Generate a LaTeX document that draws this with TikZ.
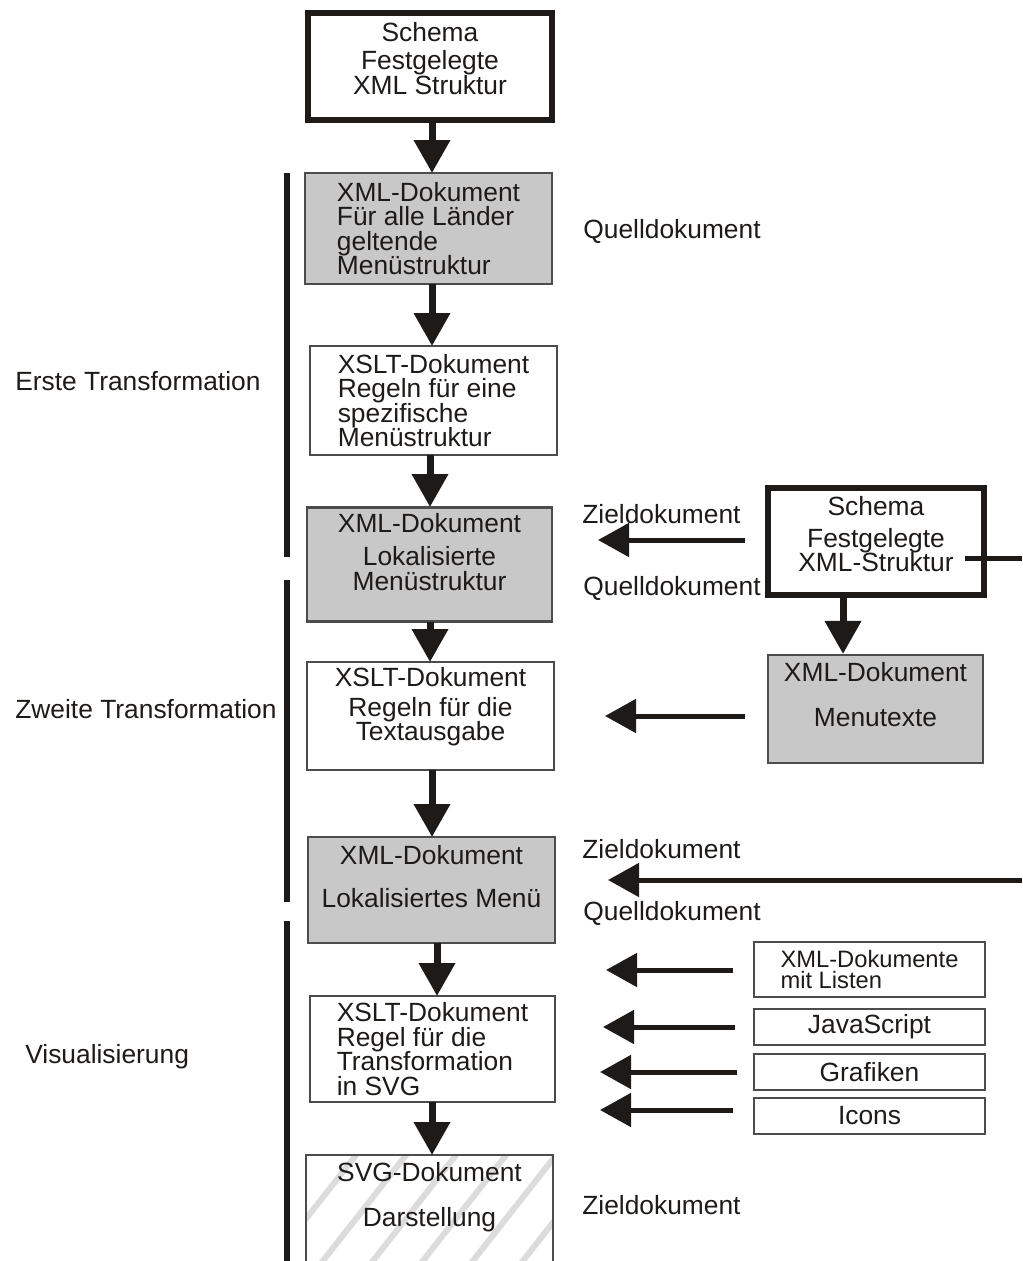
\documentclass[tikz,border=0pt]{standalone}
\usepackage{fontspec}
\setmainfont{Liberation Sans}
\usepackage{xcolor}
\usepackage{tikz}
\usetikzlibrary{positioning, arrows.meta, calc}

\definecolor{boxgray}{RGB}{200,200,200}
\definecolor{inkblack}{RGB}{30,26,24}
\definecolor{stripegray}{RGB}{220,220,220}

\tikzset{
  docbox/.style={draw=black!70, line width=1.2pt, inner sep=0pt, align=center},
  greybox/.style={docbox, fill=boxgray},
  schemabox/.style={draw=inkblack, line width=0.12cm, fill=white, inner sep=0pt, align=center},
  boxtext/.style={align=center, inner sep=0pt, yshift=#1},
  downarrow/.style={draw=inkblack, line width=0.14cm, -{Triangle[length=0.66cm,width=0.7cm]}},
  leftarrow/.style={draw=inkblack, line width=0.1cm, -{Triangle[length=0.62cm,width=0.66cm]}},
  sidebar/.style={draw=inkblack, line width=0.12cm},
  sidelabel/.style={anchor=west, inner sep=0pt}
}

\begin{document}
\begin{tikzpicture}[x=0.02cm, y=-0.02cm, every node/.style={font=\fontsize{15pt}{14pt}\selectfont, text=inkblack}]
        \useasboundingbox (0,0) rectangle (1022,1261);

        % linke Spalte
        \node[schemabox, minimum width=4.88cm, minimum height=2.14cm,
              label={[boxtext=0.16cm]center:{Schema\\[0.08cm]Festgelegte\\XML Struktur}}] (schema) at (430,66.5) {};
        \node[greybox, align=left, minimum width=4.94cm, minimum height=2.22cm] (quelle) at (428.5,228.5)
          {XML-Dokument\\Für alle Länder\\geltende\\Menüstruktur};
        \node[docbox, align=left, minimum width=4.94cm, minimum height=2.18cm] (xslt1) at (433.5,400.5)
          {XSLT-Dokument\\Regeln für eine\\spezifische\\Menüstruktur};
        \node[greybox, minimum width=4.9cm, minimum height=2.28cm,
              label={[boxtext=0.25cm]center:{XML-Dokument\\[0.18cm]Lokalisierte\\Menüstruktur}}] (lokal) at (429.5,564.5) {};
        \node[docbox, minimum width=4.94cm, minimum height=2.16cm,
              label={[boxtext=0.18cm]center:{XSLT-Dokument\\[0.1cm]Regeln für die\\Textausgabe}}] (xslt2) at (430.5,716) {};
        \node[greybox, minimum width=4.94cm, minimum height=2.12cm,
              label={[boxtext=0.27cm]center:{XML-Dokument\\[0.36cm]Lokalisiertes Menü}}] (menu) at (431.5,890) {};
        \node[docbox, align=left, minimum width=4.9cm, minimum height=2.12cm] (xslt3) at (432.5,1049)
          {XSLT-Dokument\\Regel für die\\Transformation\\in SVG};

        % SVG-Dokument, schraffiert
        \begin{scope}
          \clip (306,1155) rectangle (553,1275);
          \foreach \s in {0,50,...,450}
            \draw[stripegray, line width=0.12cm] (250+\s,1290) -- (360+\s,1150);
        \end{scope}
        \draw[black!70, line width=1.2pt] (306,1275) -- (306,1155) -- (553,1155) -- (553,1275);
        \node[inner sep=0pt, align=center] (svg) at (429.5,1197)
          {SVG-Dokument\\[0.4cm]Darstellung};

        % rechte Spalte
        \node[schemabox, minimum width=4.32cm, minimum height=2.14cm,
              label={[boxtext=0.15cm]center:{Schema\\[0.15cm]Festgelegte\\XML-Struktur}}] (schema2) at (876,541.5) {};
        \node[greybox, minimum width=4.3cm, minimum height=2.16cm,
              label={[boxtext=0.29cm]center:{XML-Dokument\\[0.4cm]Menutexte}}] (texte) at (875.5,709) {};
        \node[docbox, align=left, minimum width=4.62cm, minimum height=1.1cm,
              font=\fontsize{13.5pt}{12.5pt}\selectfont] (listen) at (869.5,969.5)
          {XML-Dokumente\\mit Listen};
        \node[docbox, minimum width=4.62cm, minimum height=0.72cm] (js) at (869.5,1027) {JavaScript};
        \node[docbox, minimum width=4.62cm, minimum height=0.72cm] (grafik) at (869.5,1072) {Grafiken};
        \node[docbox, minimum width=4.62cm, minimum height=0.72cm] (icons) at (869.5,1116) {Icons};

        % Pfeile nach unten
        \draw[downarrow] (432,120) -- (432,173);
        \draw[downarrow] (432,284) -- (432,346);
        \draw[downarrow] (430,455) -- (430,507);
        \draw[downarrow] (430,622) -- (430,662);
        \draw[downarrow] (432,770) -- (432,837);
        \draw[downarrow] (437,943) -- (437,996);
        \draw[downarrow] (432,1102) -- (432,1155);
        \draw[downarrow] (schema2.south -| 843,0) -- (texte.north -| 843,0);

        % Pfeile nach links
        \coordinate (z1) at (745,540);
        \coordinate (z1end) at (598,540);
        \coordinate (z2) at (745,716);
        \coordinate (z2end) at (605,716);
        \coordinate (z3) at (1022,880);
        \coordinate (z3end) at (608,880);
        \coordinate (s2out) at (965,558);
        \coordinate (s2edge) at (1022,558);
        \draw[leftarrow] (z1) -- (z1end);
        \draw[leftarrow] (z2) -- (z2end);
        \draw[leftarrow] (z3) -- (z3end);
        \draw[inkblack, line width=0.1cm] (s2out) -- (s2edge);
        \draw[leftarrow] (733,970) -- (606,970);
        \draw[leftarrow] (735,1027) -- (603,1027);
        \draw[leftarrow] (737,1072) -- (600,1072);
        \draw[leftarrow] (733,1110) -- (600,1110);

        % Klammern links
        \draw[sidebar] (287,173) -- (287,557);
        \draw[sidebar] (287,580) -- (287,902);
        \draw[sidebar] (287,921) -- (287,1261);
        \node[sidelabel] (erste) at (15,381) {Erste Transformation};
        \node[sidelabel] (zweite) at (15,709) {Zweite Transformation};
        \node[sidelabel] (visual) at (25,1057) {Visualisierung};

        % Beschriftungen rechts
        \node[sidelabel] (q1) at (583,231) {Quelldokument};
        \node[sidelabel] (zl1) at (582,514) {Zieldokument};
        \node[sidelabel] (q2) at (583,588) {Quelldokument};
        \node[sidelabel] (zl2) at (582,849) {Zieldokument};
        \node[sidelabel] (q3) at (583,913) {Quelldokument};
        \node[sidelabel] (zl3) at (582,1205) {Zieldokument};
      \end{tikzpicture}
\end{document}
